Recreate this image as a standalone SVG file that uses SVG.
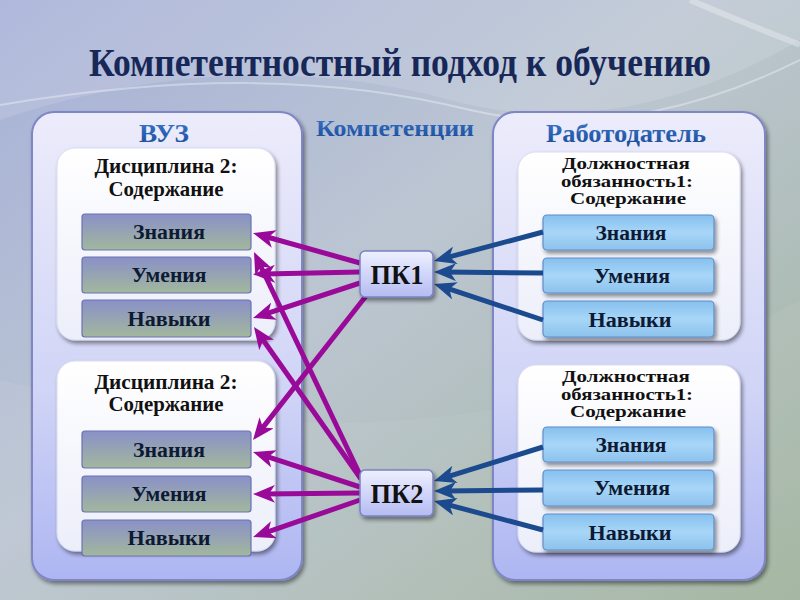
<svg xmlns="http://www.w3.org/2000/svg" width="800" height="600" viewBox="0 0 800 600">
<defs>
<linearGradient id="bg" x1="0" y1="0" x2="1" y2="1">
<stop offset="0" stop-color="#a6b0d8"/>
<stop offset="0.45" stop-color="#bcc6d2"/>
<stop offset="1" stop-color="#a2b49e"/>
</linearGradient>
<linearGradient id="outer" x1="0" y1="0" x2="0" y2="1">
<stop offset="0" stop-color="#ececfb"/>
<stop offset="0.6" stop-color="#d0d4f6"/>
<stop offset="1" stop-color="#aeb6f2"/>
</linearGradient>
<linearGradient id="inner" x1="0" y1="0" x2="0" y2="1">
<stop offset="0" stop-color="#ffffff"/>
<stop offset="1" stop-color="#eceefa"/>
</linearGradient>
<linearGradient id="itemL" x1="0" y1="0" x2="0" y2="1">
<stop offset="0" stop-color="#8a90c8"/>
<stop offset="1" stop-color="#a2b89c"/>
</linearGradient>
<linearGradient id="itemR" x1="0" y1="0" x2="0" y2="1">
<stop offset="0" stop-color="#86c0ee"/>
<stop offset="0.5" stop-color="#a8d6f8"/>
<stop offset="1" stop-color="#8cc2ec"/>
</linearGradient>
<linearGradient id="pk" x1="0" y1="0" x2="0" y2="1">
<stop offset="0" stop-color="#eef0ff"/>
<stop offset="1" stop-color="#b4bcf2"/>
</linearGradient>
<linearGradient id="blueTxt" x1="0" y1="0" x2="0" y2="1">
<stop offset="0" stop-color="#3a78cc"/>
<stop offset="1" stop-color="#1a4a98"/>
</linearGradient>
<filter id="sh" x="-10%" y="-10%" width="130%" height="130%">
<feGaussianBlur in="SourceAlpha" stdDeviation="2"/>
<feOffset dx="2" dy="3"/>
<feComponentTransfer><feFuncA type="linear" slope="0.45"/></feComponentTransfer>
<feMerge><feMergeNode/><feMergeNode in="SourceGraphic"/></feMerge>
</filter>
<marker id="ap" viewBox="0 0 22 18" refX="11" refY="9" markerWidth="22" markerHeight="18" markerUnits="userSpaceOnUse" orient="auto">
<path d="M0,0 L22,9 L0,18 L6,9 z" fill="#990a99"/>
</marker>
<marker id="ab" viewBox="0 0 22 18" refX="11" refY="9" markerWidth="22" markerHeight="18" markerUnits="userSpaceOnUse" orient="auto">
<path d="M0,0 L22,9 L0,18 L6,9 z" fill="#1c4a8e"/>
</marker>
<style>
text{font-family:'Liberation Serif','Times New Roman',serif;font-weight:bold;text-anchor:middle}
.outer{fill:url(#outer);stroke:#7e86c6;stroke-width:2}
.inner{fill:url(#inner);stroke:#d8dcf0;stroke-width:1}
.itL{fill:url(#itemL);stroke:#6a72b4;stroke-width:1.2}
.itR{fill:url(#itemR);stroke:#5e8ecc;stroke-width:1.2}
.itT{font-size:20px;fill:#0e1a34}
.hd{font-size:21px;fill:#111}
.hdR{font-size:16px;fill:#111}
.pkb{fill:url(#pk);stroke:#7a82c2;stroke-width:1.5}
.pkT{font-size:27px;fill:#111}
.cp{stroke:#990a99;stroke-width:5;fill:none;marker-end:url(#ap)}
.cb{stroke:#1c4a8e;stroke-width:5;fill:none;marker-end:url(#ab)}
</style>
</defs>
<rect width="800" height="600" fill="url(#bg)"/>
<path d="M0,120 C150,70 300,60 450,100 C560,130 680,110 800,40 L800,0 L0,0 z" fill="#ffffff" opacity="0.12"/>
<path d="M0,105 C180,75 330,75 470,110 C600,140 720,100 800,60" fill="none" stroke="#ffffff" stroke-width="2" opacity="0.35"/>
<path d="M690,0 C760,30 790,40 800,45" fill="none" stroke="#ffffff" stroke-width="6" opacity="0.3"/>
<path d="M0,600 L0,380 C200,430 500,470 800,300 L800,600 z" fill="#ffffff" opacity="0.05"/>

<text x="400" y="76" font-size="40" fill="#172858" textLength="622" lengthAdjust="spacingAndGlyphs">Компетентностный подход к обучению</text>

<g id="vuz">
<rect class="outer" x="32" y="112" width="270" height="468" rx="22" filter="url(#sh)"/>
<text x="164" y="142" font-size="25" fill="url(#blueTxt)" textLength="50" lengthAdjust="spacingAndGlyphs">ВУЗ</text>
</g>
<g id="rabotodatel">
<rect class="outer" x="493" y="112" width="272" height="468" rx="22" filter="url(#sh)"/>
<text x="626" y="142" font-size="25" fill="url(#blueTxt)" textLength="160" lengthAdjust="spacingAndGlyphs">Работодатель</text>
</g>
<text x="395" y="136" font-size="24" fill="url(#blueTxt)" textLength="158" lengthAdjust="spacingAndGlyphs">Компетенции</text>

<g id="disc1">
<rect class="inner" x="57" y="148" width="218" height="192" rx="18" filter="url(#sh)"/>
<text class="hd" x="166" y="173" textLength="143" lengthAdjust="spacingAndGlyphs">Дисциплина 2:</text>
<text class="hd" x="166" y="196" textLength="115" lengthAdjust="spacingAndGlyphs">Содержание</text>
</g>
<g id="disc2">
<rect class="inner" x="57" y="361" width="218" height="190" rx="18" filter="url(#sh)"/>
<text class="hd" x="166" y="389" textLength="143" lengthAdjust="spacingAndGlyphs">Дисциплина 2:</text>
<text class="hd" x="166" y="411" textLength="115" lengthAdjust="spacingAndGlyphs">Содержание</text>
</g>
<g id="duty1">
<rect class="inner" x="518" y="152" width="222" height="188" rx="18" filter="url(#sh)"/>
<text class="hdR" x="626" y="169" textLength="128" lengthAdjust="spacingAndGlyphs">Должностная</text>
<text class="hdR" x="627" y="186.5" textLength="132" lengthAdjust="spacingAndGlyphs">обязанность1:</text>
<text class="hdR" x="628" y="204" textLength="116" lengthAdjust="spacingAndGlyphs">Содержание</text>
</g>
<g id="duty2">
<rect class="inner" x="518" y="365" width="222" height="187" rx="18" filter="url(#sh)"/>
<text class="hdR" x="626" y="382" textLength="128" lengthAdjust="spacingAndGlyphs">Должностная</text>
<text class="hdR" x="627" y="399.5" textLength="132" lengthAdjust="spacingAndGlyphs">обязанность1:</text>
<text class="hdR" x="628" y="417" textLength="116" lengthAdjust="spacingAndGlyphs">Содержание</text>
</g>

<g id="l1z"><rect class="itL" x="82" y="214" width="169" height="36" rx="3"/><text class="itT" x="169" y="239" textLength="72" lengthAdjust="spacingAndGlyphs">Знания</text></g>
<g id="l1u"><rect class="itL" x="82" y="257" width="169" height="36" rx="3"/><text class="itT" x="169" y="282" textLength="75" lengthAdjust="spacingAndGlyphs">Умения</text></g>
<g id="l1n"><rect class="itL" x="82" y="300" width="169" height="37" rx="3"/><text class="itT" x="169" y="326" textLength="83" lengthAdjust="spacingAndGlyphs">Навыки</text></g>
<g id="l2z"><rect class="itL" x="82" y="431" width="169" height="37" rx="3"/><text class="itT" x="169" y="457" textLength="72" lengthAdjust="spacingAndGlyphs">Знания</text></g>
<g id="l2u"><rect class="itL" x="82" y="476" width="169" height="36" rx="3"/><text class="itT" x="169" y="501" textLength="75" lengthAdjust="spacingAndGlyphs">Умения</text></g>
<g id="l2n"><rect class="itL" x="82" y="520" width="169" height="36" rx="3"/><text class="itT" x="169" y="545" textLength="83" lengthAdjust="spacingAndGlyphs">Навыки</text></g>

<g id="r1z"><rect class="itR" x="543" y="215" width="171" height="35" rx="4" filter="url(#sh)"/><text class="itT" x="631" y="240" textLength="71" lengthAdjust="spacingAndGlyphs">Знания</text></g>
<g id="r1u"><rect class="itR" x="543" y="258" width="171" height="35" rx="4" filter="url(#sh)"/><text class="itT" x="632" y="283" textLength="76" lengthAdjust="spacingAndGlyphs">Умения</text></g>
<g id="r1n"><rect class="itR" x="543" y="301" width="171" height="36" rx="4" filter="url(#sh)"/><text class="itT" x="630" y="327" textLength="83" lengthAdjust="spacingAndGlyphs">Навыки</text></g>
<g id="r2z"><rect class="itR" x="543" y="427" width="171" height="35" rx="4" filter="url(#sh)"/><text class="itT" x="631" y="452" textLength="71" lengthAdjust="spacingAndGlyphs">Знания</text></g>
<g id="r2u"><rect class="itR" x="543" y="470" width="171" height="36" rx="4" filter="url(#sh)"/><text class="itT" x="632" y="495" textLength="76" lengthAdjust="spacingAndGlyphs">Умения</text></g>
<g id="r2n"><rect class="itR" x="543" y="514" width="171" height="36" rx="4" filter="url(#sh)"/><text class="itT" x="630" y="540" textLength="83" lengthAdjust="spacingAndGlyphs">Навыки</text></g>

<g id="connectors">
<line class="cp" x1="360" y1="263" x2="263.6" y2="236"/>
<line class="cp" x1="360" y1="272" x2="264" y2="274"/>
<line class="cp" x1="360" y1="283" x2="263.5" y2="314.6"/>
<line class="cp" x1="366" y1="296" x2="259.8" y2="431.4"/>
<line class="cp" x1="361" y1="477" x2="258.7" y2="262"/>
<line class="cp" x1="361" y1="479" x2="260.3" y2="336"/>
<line class="cp" x1="360" y1="487" x2="263.5" y2="455.4"/>
<line class="cp" x1="360" y1="493" x2="264" y2="494"/>
<line class="cp" x1="360" y1="500" x2="263.5" y2="533.4"/>
<line class="cb" x1="543" y1="232" x2="444.7" y2="258.1"/>
<line class="cb" x1="543" y1="273" x2="445" y2="272"/>
<line class="cb" x1="543" y1="320" x2="444.5" y2="287.4"/>
<line class="cb" x1="543" y1="447" x2="444.5" y2="477.7"/>
<line class="cb" x1="543" y1="490" x2="445" y2="491"/>
<line class="cb" x1="543" y1="530" x2="444.7" y2="503.9"/>
</g>

<g id="pk1">
<rect class="pkb" x="360" y="251" width="73" height="46" rx="5" filter="url(#sh)"/>
<text class="pkT" x="397" y="284" textLength="53" lengthAdjust="spacingAndGlyphs">ПК1</text>
</g>
<g id="pk2">
<rect class="pkb" x="360" y="470" width="73" height="46" rx="5" filter="url(#sh)"/>
<text class="pkT" x="397" y="503" textLength="53" lengthAdjust="spacingAndGlyphs">ПК2</text>
</g>
</svg>
